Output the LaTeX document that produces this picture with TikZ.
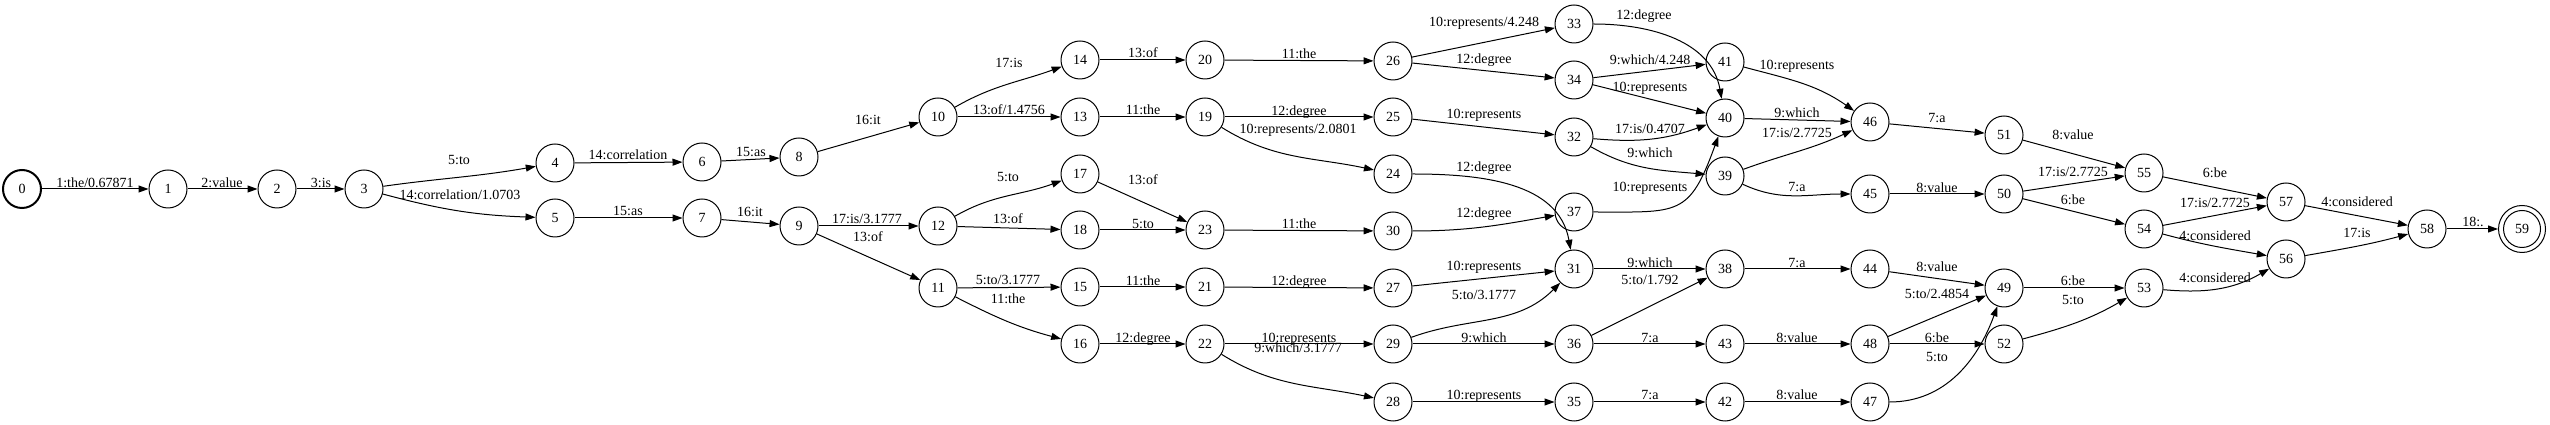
\documentclass[tikz,border=0pt]{standalone}
\usepackage{fontspec}
\setmainfont{Liberation Serif}
\usetikzlibrary{arrows.meta}
\begin{document}
\begin{tikzpicture}[x=1pt,y=1pt,
  font=\fontsize{14}{16}\selectfont,
  st/.style={circle,draw,line width=1pt,minimum size=38pt,inner sep=0pt},
  lab/.style={anchor=base,inner sep=0pt},
  e/.style={line width=1pt,-{Triangle[length=10pt,width=7pt]}}]
\useasboundingbox (0,0) rectangle (2550,425);
% states
\node[st,line width=2pt] (0) at (22,236) {0};
\node[st] (1) at (168,236) {1};
\node[st] (2) at (277,236) {2};
\node[st] (3) at (364,236) {3};
\node[st] (4) at (555,262) {4};
\node[st] (5) at (555,207) {5};
\node[st] (6) at (702,263) {6};
\node[st] (7) at (702,207) {7};
\node[st] (8) at (799,268) {8};
\node[st] (9) at (799,199) {9};
\node[st] (10) at (938,308) {10};
\node[st] (12) at (938,199) {12};
\node[st] (11) at (938,137) {11};
\node[st] (14) at (1080,365) {14};
\node[st] (13) at (1080,308) {13};
\node[st] (17) at (1080,251) {17};
\node[st] (18) at (1080,195) {18};
\node[st] (15) at (1080,138) {15};
\node[st] (16) at (1080,81) {16};
\node[st] (20) at (1205,365) {20};
\node[st] (19) at (1205,308) {19};
\node[st] (23) at (1205,195) {23};
\node[st] (21) at (1205,138) {21};
\node[st] (22) at (1205,81) {22};
\node[st] (26) at (1393,364) {26};
\node[st] (25) at (1393,308) {25};
\node[st] (24) at (1393,251) {24};
\node[st] (30) at (1393,194) {30};
\node[st] (27) at (1393,137) {27};
\node[st] (29) at (1393,81) {29};
\node[st] (28) at (1393,23) {28};
\node[st] (33) at (1574,401) {33};
\node[st] (34) at (1574,345) {34};
\node[st] (32) at (1574,288) {32};
\node[st] (37) at (1574,213) {37};
\node[st] (31) at (1574,156) {31};
\node[st] (36) at (1574,81) {36};
\node[st] (35) at (1574,23) {35};
\node[st] (41) at (1725,363) {41};
\node[st] (40) at (1725,307) {40};
\node[st] (39) at (1725,249) {39};
\node[st] (38) at (1725,156) {38};
\node[st] (43) at (1725,81) {43};
\node[st] (42) at (1725,23) {42};
\node[st] (46) at (1870,303) {46};
\node[st] (45) at (1870,231) {45};
\node[st] (44) at (1870,156) {44};
\node[st] (48) at (1870,81) {48};
\node[st] (47) at (1870,23) {47};
\node[st] (51) at (2004,290) {51};
\node[st] (50) at (2004,231) {50};
\node[st] (49) at (2004,137) {49};
\node[st] (52) at (2004,81) {52};
\node[st] (55) at (2144,252) {55};
\node[st] (54) at (2144,196) {54};
\node[st] (53) at (2144,137) {53};
\node[st] (57) at (2286,223) {57};
\node[st] (56) at (2286,166) {56};
\node[st] (58) at (2427,196) {58};
\node[st,minimum size=47pt] (59) at (2522,196) {59};
\draw[line width=1pt] (59.center) circle (18.5pt);
% transitions
\draw[e] (0) -- (1);
\draw[e] (1) -- (2);
\draw[e] (2) -- (3);
\draw[e] (3) to[out=8,in=190] (4);
\draw[e] (3) to[out=-15,in=178] (5);
\draw[e] (4) -- (6);
\draw[e] (5) -- (7);
\draw[e] (6) -- (8);
\draw[e] (7) -- (9);
\draw[e] (8) -- (10);
\draw[e] (9) -- (12);
\draw[e] (9) -- (11);
\draw[e] (10) to[out=30,in=200] (14);
\draw[e] (10) -- (13);
\draw[e] (12) to[out=30,in=200] (17);
\draw[e] (12) -- (18);
\draw[e] (11) -- (15);
\draw[e] (11) to[out=-27,in=165] (16);
\draw[e] (14) -- (20);
\draw[e] (13) -- (19);
\draw[e] (17) -- (23);
\draw[e] (18) -- (23);
\draw[e] (15) -- (21);
\draw[e] (16) -- (22);
\draw[e] (20) -- (26);
\draw[e] (19) -- (25);
\draw[e] (19) to[out=-32,in=168] (24);
\draw[e] (23) -- (30);
\draw[e] (21) -- (27);
\draw[e] (22) -- (29);
\draw[e] (22) to[out=-32,in=168] (28);
\draw[e] (26) -- (33);
\draw[e] (26) -- (34);
\draw[e] (25) -- (32);
\draw[e] (24) to[out=0,in=100] (31);
\draw[e] (30) to[out=0,in=190] (37);
\draw[e] (27) -- (31);
\draw[e] (29) to[out=20,in=225] (31);
\draw[e] (29) -- (36);
\draw[e] (28) -- (35);
\draw[e] (33) to[out=0,in=100] (40);
\draw[e] (34) -- (41);
\draw[e] (34) -- (40);
\draw[e] (32) to[out=-5,in=200] (40);
\draw[e] (32) to[out=-30,in=175] (39);
\draw[e] (37) to[out=0,in=-110,looseness=1.5] (40);
\draw[e] (31) -- (38);
\draw[e] (36) -- (38);
\draw[e] (36) -- (43);
\draw[e] (35) -- (42);
\draw[e] (41) to[out=-15,in=145] (46);
\draw[e] (40) -- (46);
\draw[e] (39) to[out=20,in=205] (46);
\draw[e] (39) to[out=-25,in=180] (45);
\draw[e] (38) -- (44);
\draw[e] (43) -- (48);
\draw[e] (42) -- (47);
\draw[e] (46) -- (51);
\draw[e] (45) -- (50);
\draw[e] (44) -- (49);
\draw[e] (48) -- (49);
\draw[e] (48) -- (52);
\draw[e] (47) to[out=0,in=-110] (49);
\draw[e] (51) -- (55);
\draw[e] (50) -- (55);
\draw[e] (50) -- (54);
\draw[e] (49) -- (53);
\draw[e] (52) to[out=15,in=210] (53);
\draw[e] (55) -- (57);
\draw[e] (54) -- (57);
\draw[e] (54) to[out=-15,in=170] (56);
\draw[e] (53) to[out=-5,in=210] (56);
\draw[e] (57) -- (58);
\draw[e] (56) to[out=10,in=195] (58);
\draw[e] (58) -- (59);
% labels
\node[lab] (l0-1) at (95,237) {1:the/0.67871};
\node[lab] (l1-2) at (222,237) {2:value};
\node[lab] (l2-3) at (321,237) {3:is};
\node[lab] (l3-4) at (459,260) {5:to};
\node[lab] (l3-5) at (460,225) {14:correlation/1.0703};
\node[lab] (l4-6) at (628,265) {14:correlation};
\node[lab] (l5-7) at (628,209) {15:as};
\node[lab] (l6-8) at (751,268) {15:as};
\node[lab] (l7-9) at (750,208) {16:it};
\node[lab] (l8-10) at (868,300) {16:it};
\node[lab] (l9-12) at (867,201) {17:is/3.1777};
\node[lab] (l9-11) at (868,183) {13:of};
\node[lab] (l10-14) at (1009,357) {17:is};
\node[lab] (l10-13) at (1009,310) {13:of/1.4756};
\node[lab] (l12-17) at (1008,243) {5:to};
\node[lab] (l12-18) at (1008,201) {13:of};
\node[lab] (l11-15) at (1008,140) {5:to/3.1777};
\node[lab] (l11-16) at (1008,121) {11:the};
\node[lab] (l14-20) at (1143,367) {13:of};
\node[lab] (l13-19) at (1143,310) {11:the};
\node[lab] (l17-23) at (1143,240) {13:of};
\node[lab] (l18-23) at (1143,196) {5:to};
\node[lab] (l15-21) at (1143,139) {11:the};
\node[lab] (l16-22) at (1143,82) {12:degree};
\node[lab] (l20-26) at (1299,366) {11:the};
\node[lab] (l19-25) at (1299,309) {12:degree};
\node[lab] (l19-24) at (1298,291) {10:represents/2.0801};
\node[lab] (l23-30) at (1299,196) {11:the};
\node[lab] (l21-27) at (1299,139) {12:degree};
\node[lab] (l22-29) at (1299,82) {10:represents};
\node[lab] (l22-28) at (1298,72) {9:which/3.1777};
\node[lab] (l26-33) at (1484,398) {10:represents/4.248};
\node[lab] (l26-34) at (1484,361) {12:degree};
\node[lab] (l25-32) at (1484,306) {10:represents};
\node[lab] (l24-31) at (1484,253) {12:degree};
\node[lab] (l30-37) at (1484,207) {12:degree};
\node[lab] (l27-31) at (1484,154) {10:represents};
\node[lab] (l29-31) at (1484,125) {5:to/3.1777};
\node[lab] (l29-36) at (1484,82) {9:which};
\node[lab] (l28-35) at (1484,25) {10:represents};
\node[lab] (l33-40) at (1644,405) {12:degree};
\node[lab] (l34-41) at (1650,360) {9:which/4.248};
\node[lab] (l34-40) at (1650,333) {10:represents};
\node[lab] (l32-40) at (1650,291) {17:is/0.4707};
\node[lab] (l32-39) at (1650,267) {9:which};
\node[lab] (l37-40) at (1650,233) {10:represents};
\node[lab] (l31-38) at (1650,157) {9:which};
\node[lab] (l36-38) at (1650,140) {5:to/1.792};
\node[lab] (l36-43) at (1650,82) {7:a};
\node[lab] (l35-42) at (1650,25) {7:a};
\node[lab] (l41-46) at (1797,355) {10:represents};
\node[lab] (l40-46) at (1797,307) {9:which};
\node[lab] (l39-46) at (1797,287) {17:is/2.7725};
\node[lab] (l39-45) at (1797,233) {7:a};
\node[lab] (l38-44) at (1797,157) {7:a};
\node[lab] (l43-48) at (1797,82) {8:value};
\node[lab] (l42-47) at (1797,25) {8:value};
\node[lab] (l46-51) at (1937,302) {7:a};
\node[lab] (l45-50) at (1937,232) {8:value};
\node[lab] (l44-49) at (1937,153) {8:value};
\node[lab] (l48-49) at (1937,126) {5:to/2.4854};
\node[lab] (l48-52) at (1937,82) {6:be};
\node[lab] (l47-49) at (1937,63) {5:to};
\node[lab] (l51-55) at (2073,285) {8:value};
\node[lab] (l50-55) at (2073,248) {17:is/2.7725};
\node[lab] (l50-54) at (2073,220) {6:be};
\node[lab] (l49-53) at (2073,139) {6:be};
\node[lab] (l52-53) at (2073,120) {5:to};
\node[lab] (l55-57) at (2215,247) {6:be};
\node[lab] (l54-57) at (2215,217) {17:is/2.7725};
\node[lab] (l54-56) at (2215,184) {4:considered};
\node[lab] (l53-56) at (2215,142) {4:considered};
\node[lab] (l57-58) at (2357,218) {4:considered};
\node[lab] (l56-58) at (2357,187) {17:is};
\node[lab] (l58-59) at (2473,198) {18:.};
\end{tikzpicture}
\end{document}
